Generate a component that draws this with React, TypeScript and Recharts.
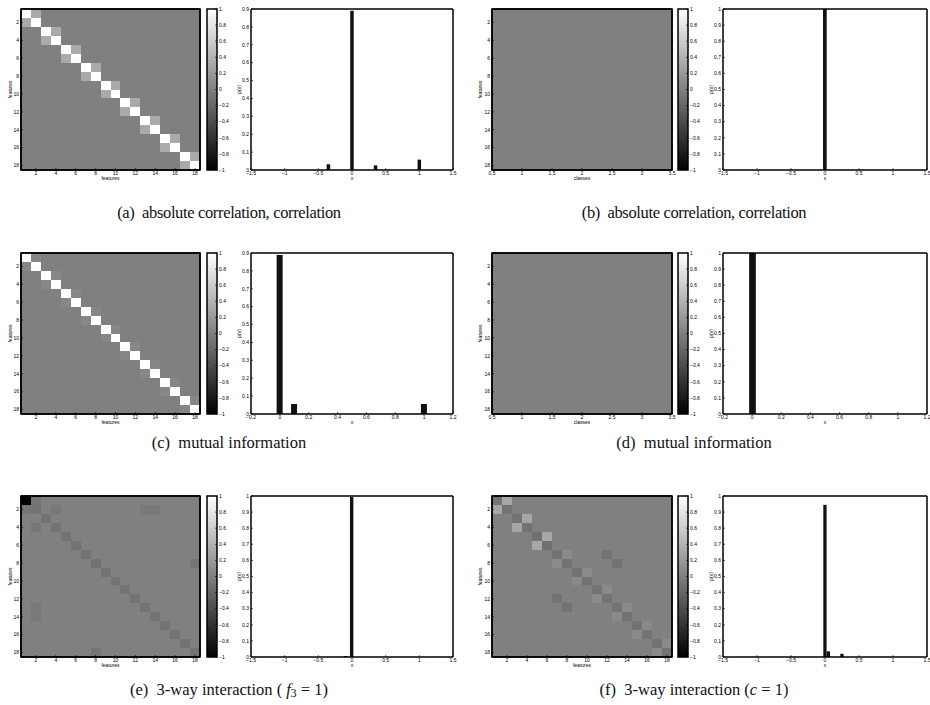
import React from 'react';
import { ComposedChart, BarChart, Bar, XAxis, YAxis, ReferenceArea } from 'recharts';

const SANS = '"Liberation Sans", Arial, Helvetica, sans-serif';
const SERIF = '"Liberation Serif", "Times New Roman", serif';

// ---------- tick labels ----------
const heatTicks = [2, 4, 6, 8, 10, 12, 14, 16, 18];
const classTicks = [0.5, 1, 1.5, 2, 2.5, 3, 3.5];
const cbTicks = [-1, -0.8, -0.6, -0.4, -0.2, 0, 0.2, 0.4, 0.6, 0.8, 1];
const pTicks09 = [0, 0.1, 0.2, 0.3, 0.4, 0.5, 0.6, 0.7, 0.8, 0.9];
const pTicks1 = [0, 0.1, 0.2, 0.3, 0.4, 0.5, 0.6, 0.7, 0.8, 0.9, 1];
const xTicksWide = [-1.5, -1, -0.5, 0, 0.5, 1, 1.5];
const xTicksNarrow = [-0.2, 0, 0.2, 0.4, 0.6, 0.8, 1, 1.2];

// ---------- heatmap cells: [row, col, value] (background value 0) ----------
const cellsA = [
  [1, 1, 1], [1, 2, 0.33], [2, 1, 0.33], [2, 2, 1],
  [3, 3, 1], [3, 4, 0.33], [4, 3, 0.33], [4, 4, 1],
  [5, 5, 1], [5, 6, 0.33], [6, 5, 0.33], [6, 6, 1],
  [7, 7, 1], [7, 8, 0.33], [8, 7, 0.33], [8, 8, 1],
  [9, 9, 1], [9, 10, 0.33], [10, 9, 0.33], [10, 10, 1],
  [11, 11, 1], [11, 12, 0.33], [12, 11, 0.33], [12, 12, 1],
  [13, 13, 1], [13, 14, 0.33], [14, 13, 0.33], [14, 14, 1],
  [15, 15, 1], [15, 16, 0.33], [16, 15, 0.33], [16, 16, 1],
  [17, 17, 1], [17, 18, 0.33], [18, 17, 0.33], [18, 18, 1],
];
const cellsB: number[][] = [];
const cellsC = [
  [1, 1, 1], [1, 2, 0.06], [2, 1, 0.06], [2, 2, 1],
  [3, 3, 1], [3, 4, 0.06], [4, 3, 0.06], [4, 4, 1],
  [5, 5, 1], [5, 6, 0.06], [6, 5, 0.06], [6, 6, 1],
  [7, 7, 1], [7, 8, 0.06], [8, 7, 0.06], [8, 8, 1],
  [9, 9, 1], [9, 10, 0.06], [10, 9, 0.06], [10, 10, 1],
  [11, 11, 1], [11, 12, 0.06], [12, 11, 0.06], [12, 12, 1],
  [13, 13, 1], [13, 14, 0.06], [14, 13, 0.06], [14, 14, 1],
  [15, 15, 1], [15, 16, 0.06], [16, 15, 0.06], [16, 16, 1],
  [17, 17, 1], [17, 18, 0.06], [18, 17, 0.06], [18, 18, 1],
];
const cellsD: number[][] = [];
const cellsE = [
  [1, 1, -1], [1, 2, -0.08], [2, 1, -0.08], [2, 2, -0.1],
  [2, 4, -0.07], [4, 2, -0.07], [2, 13, -0.05], [2, 14, -0.05], [13, 2, -0.05], [14, 2, -0.05],
  [3, 3, -0.1], [4, 4, -0.1], [5, 5, -0.1], [6, 6, -0.1], [7, 7, -0.1], [8, 8, -0.1],
  [9, 9, -0.1], [10, 10, -0.1], [11, 11, -0.1], [12, 12, -0.1], [13, 13, -0.1], [14, 14, -0.1],
  [15, 15, -0.1], [16, 16, -0.1], [17, 17, -0.1], [18, 18, -0.1],
  [8, 18, -0.08], [18, 8, -0.08],
];
const cellsF = [
  [1, 1, -0.1], [1, 2, 0.3], [2, 1, 0.3], [2, 2, -0.1],
  [3, 3, -0.1], [3, 4, 0.3], [4, 3, 0.3], [4, 4, -0.1],
  [5, 5, -0.12], [5, 6, 0.32], [6, 5, 0.32], [6, 6, -0.12],
  [7, 7, -0.1], [7, 8, 0.08], [8, 7, 0.08], [8, 8, -0.1],
  [9, 9, -0.1], [9, 10, 0.08], [10, 9, 0.08], [10, 10, -0.1],
  [11, 11, -0.1], [11, 12, 0.08], [12, 11, 0.08], [12, 12, -0.1],
  [13, 13, -0.1], [13, 14, 0.08], [14, 13, 0.08], [14, 14, -0.1],
  [15, 15, -0.1], [15, 16, 0.08], [16, 15, 0.08], [16, 16, -0.1],
  [17, 17, -0.1], [17, 18, 0.08], [18, 17, 0.08], [18, 18, -0.1],
  [7, 12, -0.1], [12, 7, -0.1], [8, 13, -0.1], [13, 8, -0.1],
];

// ---------- histograms ----------
const histAX = [-0.35, 0, 0.35, 1];
const histAP = [0.032, 0.89, 0.026, 0.058];
const histBX = [0];
const histBP = [1];
const histCX = [0, 0.1, 1];
const histCP = [0.889, 0.056, 0.056];
const histDX = [0];
const histDP = [1];
const histEX = [-0.09, 0];
const histEP = [0.006, 0.994];
const histFX = [0, 0.05, 0.25];
const histFP = [0.945, 0.035, 0.02];

const captions = [
  '(a)  absolute correlation, correlation',
  '(b)  absolute correlation, correlation',
  '(c)  mutual information',
  '(d)  mutual information',
];

const toRows = (xs: number[], ps: number[]) => xs.map((x, i) => ({ x, p: ps[i] }));
const fmt = (v: number) => (v < 0 ? '\u2212' + String(Math.abs(v)) : String(v));
const grayOf = (v: number) => {
  const g = Math.round(((v + 1) / 2) * 255);
  return `rgb(${g},${g},${g})`;
};

const tickStyle = { fontSize: 5, fill: '#000', fontFamily: SANS };
const labelStyle = { fontSize: 5, fill: '#000', fontFamily: SANS, textAnchor: 'middle' as const };

const axisCommon: any = {
  tickSize: -2,
  tick: tickStyle,
  axisLine: { stroke: '#000', strokeWidth: 1.5 },
  tickLine: { stroke: '#000', strokeWidth: 0.6 },
  allowDataOverflow: true,
  interval: 0,
  tickFormatter: fmt,
};
// invisible axes: same geometry, nothing drawn
const ghost: any = { tick: false, tickLine: false, axisLine: false };

function heatAxes(p: any, visible: boolean, L: number, B: number) {
  const v = visible ? {} : ghost;
  return [
    <XAxis key="xb" {...axisCommon} xAxisId="b" dataKey="c" orientation="bottom" type="number" domain={p.xDomain}
      ticks={p.xTicks} height={B} tickMargin={3.5}
      label={visible ? { value: p.xLabel, position: 'insideBottom', offset: 2.5, style: labelStyle } : undefined} {...v} />,
    <XAxis key="xt" {...axisCommon} xAxisId="t" dataKey="c" orientation="top" type="number" domain={p.xDomain}
      ticks={p.xTicks} height={1} tick={false} {...v} />,
    <YAxis key="yl" {...axisCommon} yAxisId="l" orientation="left" type="number" domain={[0.5, 18.5]} reversed
      ticks={heatTicks} width={L} tickMargin={4}
      label={visible ? { value: 'features', angle: -90, position: 'insideLeft', offset: p.yLabelOffset, style: labelStyle } : undefined} {...v} />,
    <YAxis key="yr" {...axisCommon} yAxisId="r" orientation="right" type="number" domain={[0.5, 18.5]} reversed
      ticks={heatTicks} width={1} tick={false} {...v} />,
  ];
}

function Heatmap(props: any) {
  const { left, top, w, h, cells, xDomain, xTicks } = props;
  const L = 22, T = 1, R = 7, B = 12;
  const W = L + w + 1 + R;
  const HH = T + 1 + h + B;
  const axisRows = xTicks.map((t: number) => ({ c: t }));
  const margin = { top: T, right: R, bottom: 0, left: 0 };
  return (
    <div style={{ position: 'absolute', left: left - L, top: top - T - 1, width: W, height: HH }}>
      <div style={{ position: 'absolute', left: 0, top: 0 }}>
        <ComposedChart width={W} height={HH} data={axisRows} margin={margin}>
          {heatAxes(props, false, L, B)}
          <ReferenceArea xAxisId="b" yAxisId="l" x1={xDomain[0]} x2={xDomain[1]} y1={0.5} y2={18.5}
            fill={grayOf(0)} fillOpacity={1} stroke="none" ifOverflow="visible" />
          {cells.map((c: number[], i: number) => (
            <ReferenceArea key={i} xAxisId="b" yAxisId="l" x1={c[1] - 0.5} x2={c[1] + 0.5} y1={c[0] - 0.5} y2={c[0] + 0.5}
              fill={grayOf(c[2])} fillOpacity={1} stroke="none" shapeRendering="crispEdges" ifOverflow="visible" />
          ))}
        </ComposedChart>
      </div>
      <div style={{ position: 'absolute', left: 0, top: 0 }}>
        <ComposedChart width={W} height={HH} data={axisRows} margin={margin}>
          {heatAxes(props, true, L, B)}
          <ReferenceArea xAxisId="b" yAxisId="l" x1={xDomain[0]} x2={xDomain[1]} y1={0.5} y2={18.5}
            fill="none" fillOpacity={0} stroke="#000" strokeWidth={1.5} ifOverflow="visible" />
        </ComposedChart>
      </div>
    </div>
  );
}

function Colorbar(props: any) {
  const { left, top, w, h, id } = props;
  const T = 4, Bm = 4, Lw = 1, Rw = 16;
  const levelRows = cbTicks.map((v) => ({ x: 0.5, v }));
  const margin = { top: T, right: 0, bottom: Bm, left: 0 };
  const axes = (visible: boolean) => {
    const v = visible ? {} : ghost;
    return [
      <XAxis key="x" xAxisId="b" dataKey="x" type="number" domain={[0, 1]} hide allowDataOverflow />,
      <YAxis key="l" {...axisCommon} yAxisId="l" orientation="left" type="number" domain={[-1, 1]} ticks={cbTicks}
        width={Lw} tick={false} axisLine={false} {...v} />,
      <YAxis key="r" {...axisCommon} yAxisId="r" orientation="right" type="number" domain={[-1, 1]} ticks={cbTicks}
        width={Rw} tickMargin={4} axisLine={false} {...v} />,
    ];
  };
  return (
    <div style={{ position: 'absolute', left: left - Lw, top: top - T, width: Lw + w + Rw, height: T + h + Bm }}>
      <div style={{ position: 'absolute', left: 0, top: 0 }}>
        <ComposedChart width={Lw + w + Rw} height={T + h + Bm} data={levelRows} margin={margin}>
          <defs>
            <linearGradient id={id} x1="0" y1="1" x2="0" y2="0">
              <stop offset="0" stopColor="#000" />
              <stop offset="1" stopColor="#fff" />
            </linearGradient>
          </defs>
          {axes(false)}
          <ReferenceArea xAxisId="b" yAxisId="r" x1={0} x2={1} y1={-1} y2={1}
            fill={`url(#${id})`} fillOpacity={1} stroke="#000" strokeWidth={1.5} ifOverflow="visible" />
        </ComposedChart>
      </div>
      <div style={{ position: 'absolute', left: 0, top: 0 }}>
        <ComposedChart width={Lw + w + Rw} height={T + h + Bm} data={levelRows} margin={margin}>
          {axes(true)}
        </ComposedChart>
      </div>
    </div>
  );
}

function Histogram(props: any) {
  const { left, top, w, h, data, xDomain, xTicks, yDomain, yTicks, barSize, yLabelOffset } = props;
  const L = 24, T = 1, R = 7, B = 12;
  const W = L + w + 1 + R;
  const HH = T + 1 + h + B;
  return (
    <div style={{ position: 'absolute', left: left - L, top: top - T - 1 }}>
      <BarChart width={W} height={HH} data={data} margin={{ top: T, right: R, bottom: 0, left: 0 }}>
        <XAxis {...axisCommon} xAxisId="b" dataKey="x" orientation="bottom" type="number" domain={xDomain}
          ticks={xTicks} height={B} tickMargin={3.5}
          label={{ value: 'x', position: 'insideBottom', offset: 2.5, style: labelStyle }} />
        <XAxis {...axisCommon} xAxisId="t" dataKey="x" orientation="top" type="number" domain={xDomain}
          ticks={xTicks} height={1} tick={false} />
        <YAxis {...axisCommon} yAxisId="l" orientation="left" type="number" domain={yDomain} ticks={yTicks}
          width={L} tickMargin={4}
          label={{ value: 'p(x)', angle: -90, position: 'insideLeft', offset: yLabelOffset, style: labelStyle }} />
        <YAxis {...axisCommon} yAxisId="r" orientation="right" type="number" domain={yDomain} ticks={yTicks}
          width={1} tick={false} />
        <Bar xAxisId="b" yAxisId="l" dataKey="p" fill="#111" barSize={barSize} isAnimationActive={false} />
      </BarChart>
    </div>
  );
}

const captionBox = (cx: number, cy: number, content: React.ReactNode, key: string, spacing = 0) => (
  <div key={key} style={{
    position: 'absolute', left: cx - 200, width: 400, top: cy - 10, height: 20, lineHeight: '20px',
    textAlign: 'center', fontFamily: SERIF, fontSize: 16.5, color: '#111', whiteSpace: 'pre',
    letterSpacing: spacing,
  }}>{content}</div>
);

export default function App() {
  const H = 161;
  const rowTops = [9, 253, 496];
  const Lc = { heat: 21, heatW: 179, cbar: 207, hist: 251, histW: 202 };
  const Rc = { heat: 492, heatW: 180, cbar: 678, hist: 723, histW: 204 };
  return (
    <div style={{ position: 'absolute', left: 0, top: 0, width: 930, height: 705, background: '#fff', overflow: 'hidden' }}>
      {/* Row 1 */}
      <Heatmap left={Lc.heat} top={rowTops[0]} w={Lc.heatW} h={H} cells={cellsA} xDomain={[0.5, 18.5]} xTicks={heatTicks} xLabel="features" yLabelOffset={11.7} />
      <Colorbar left={Lc.cbar} top={rowTops[0]} w={10} h={H} id="cbA" />
      <Histogram left={Lc.hist} top={rowTops[0]} w={Lc.histW} h={H} data={toRows(histAX, histAP)} xDomain={[-1.5, 1.5]} xTicks={xTicksWide} yDomain={[0, 0.9]} yTicks={pTicks09} barSize={3.5} yLabelOffset={12} />
      <Heatmap left={Rc.heat} top={rowTops[0]} w={Rc.heatW} h={H} cells={cellsB} xDomain={[0.5, 3.5]} xTicks={classTicks} xLabel="classes" yLabelOffset={10.5} />
      <Colorbar left={Rc.cbar} top={rowTops[0]} w={10} h={H} id="cbB" />
      <Histogram left={Rc.hist} top={rowTops[0]} w={Rc.histW} h={H} data={toRows(histBX, histBP)} xDomain={[-1.5, 1.5]} xTicks={xTicksWide} yDomain={[0, 1]} yTicks={pTicks1} barSize={3.7} yLabelOffset={12} />

      {/* Row 2 */}
      <Heatmap left={Lc.heat} top={rowTops[1]} w={Lc.heatW} h={H} cells={cellsC} xDomain={[0.5, 18.5]} xTicks={heatTicks} xLabel="features" yLabelOffset={11.7} />
      <Colorbar left={Lc.cbar} top={rowTops[1]} w={10} h={H} id="cbC" />
      <Histogram left={Lc.hist} top={rowTops[1]} w={Lc.histW} h={H} data={toRows(histCX, histCP)} xDomain={[-0.2, 1.2]} xTicks={xTicksNarrow} yDomain={[0, 0.9]} yTicks={pTicks09} barSize={6} yLabelOffset={12} />
      <Heatmap left={Rc.heat} top={rowTops[1]} w={Rc.heatW} h={H} cells={cellsD} xDomain={[0.5, 3.5]} xTicks={classTicks} xLabel="classes" yLabelOffset={10.5} />
      <Colorbar left={Rc.cbar} top={rowTops[1]} w={10} h={H} id="cbD" />
      <Histogram left={Rc.hist} top={rowTops[1]} w={Rc.histW} h={H} data={toRows(histDX, histDP)} xDomain={[-0.2, 1.2]} xTicks={xTicksNarrow} yDomain={[0, 1]} yTicks={pTicks1} barSize={6.7} yLabelOffset={12} />

      {/* Row 3 */}
      <Heatmap left={Lc.heat} top={rowTops[2]} w={Lc.heatW} h={H} cells={cellsE} xDomain={[0.5, 18.5]} xTicks={heatTicks} xLabel="features" yLabelOffset={11.7} />
      <Colorbar left={Lc.cbar} top={rowTops[2]} w={10} h={H} id="cbE" />
      <Histogram left={Lc.hist} top={rowTops[2]} w={Lc.histW} h={H} data={toRows(histEX, histEP)} xDomain={[-1.5, 1.5]} xTicks={xTicksWide} yDomain={[0, 1]} yTicks={pTicks1} barSize={3.4} yLabelOffset={12} />
      <Heatmap left={Rc.heat} top={rowTops[2]} w={Rc.heatW} h={H} cells={cellsF} xDomain={[0.5, 18.5]} xTicks={heatTicks} xLabel="features" yLabelOffset={10.5} />
      <Colorbar left={Rc.cbar} top={rowTops[2]} w={10} h={H} id="cbF" />
      <Histogram left={Rc.hist} top={rowTops[2]} w={Rc.histW} h={H} data={toRows(histFX, histFP)} xDomain={[-1.5, 1.5]} xTicks={xTicksWide} yDomain={[0, 1]} yTicks={pTicks1} barSize={3.3} yLabelOffset={12} />

      {captionBox(229, 213, captions[0], 'ca', -0.35)}
      {captionBox(694, 213, captions[1], 'cb', -0.35)}
      {captionBox(229, 443, captions[2], 'cc')}
      {captionBox(694, 443, captions[3], 'cd')}
      {captionBox(229, 690, <>(e)  3-way interaction ( <i>f</i><sub style={{ fontSize: '0.7em', verticalAlign: '-0.2em', lineHeight: 0 }}>3</sub> = 1)</>, 'ce')}
      {captionBox(694, 690, <>(f)  3-way interaction (<i>c</i> = 1)</>, 'cf')}
    </div>
  );
}
